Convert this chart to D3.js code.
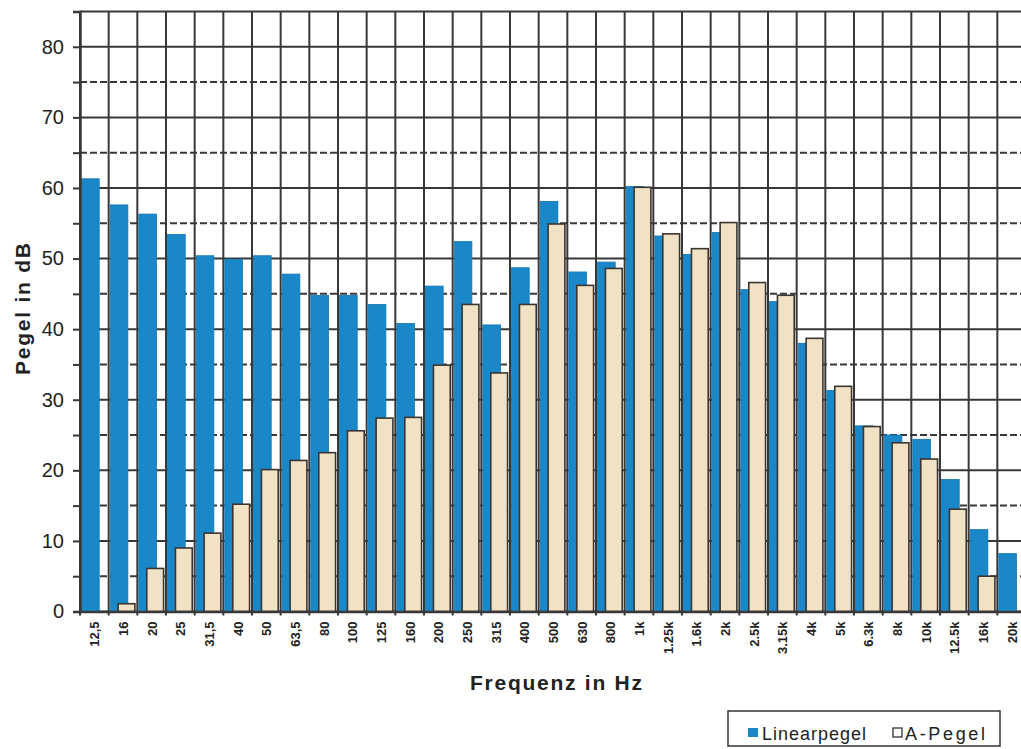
<!DOCTYPE html>
<html>
<head>
<meta charset="utf-8">
<script src="https://cdn.jsdelivr.net/npm/d3@7"></script>
<style>
  html, body { margin: 0; padding: 0; background: #fff; }
  svg { display: block; font-family: "Liberation Sans", Arial, sans-serif; }
</style>
</head>
<body>
<svg id="chart" width="1021" height="749"></svg>
<script>
const categories = ["12,5","16","20","25","31,5","40","50","63,5","80","100","125","160","200","250","315","400","500","630","800","1k","1.25k","1.6k","2k","2.5k","3.15k","4k","5k","6.3k","8k","10k","12.5k","16k","20k"];
const linearpegel = [61.3,57.6,56.3,53.4,50.4,49.9,50.4,47.8,44.8,44.8,43.5,40.8,46.1,52.4,40.6,48.7,58.1,48.1,49.5,60.2,53.2,50.6,53.7,45.6,43.9,38.0,31.3,26.3,25.0,24.4,18.7,11.6,8.2];
const apegel = [0,1.1,6.1,9.0,11.1,15.2,20.1,21.4,22.5,25.6,27.4,27.5,34.9,43.5,33.8,43.5,54.9,46.2,48.6,60.1,53.5,51.4,55.1,46.6,44.8,38.7,31.9,26.2,23.9,21.6,14.5,5.0,0];
const yTicks = [0,10,20,30,40,50,60,70,80];
const yMinor = [5,15,25,35,45,55,65,75];
const seriesNames = ["Linearpegel","A-Pegel"];

(function () {
const svg = d3.select("#chart");
const pLeft = 80, pTop = 11.5, pBottom = 611.5;
const pRight = 1026;

const x = d3.scaleBand().domain(categories).range([pLeft, pRight]).padding(0);
const y = d3.scaleLinear().domain([0, 85]).range([pBottom, pTop]);

const gridColor = "#383838";
const blue = "#1a88c8";
const beige = "#f1e2c5";

const grid = svg.append("g");
grid.selectAll("line.v").data(categories).enter().append("line")
  .attr("x1", d => x(d)).attr("x2", d => x(d))
  .attr("y1", pTop).attr("y2", pBottom)
  .attr("stroke", gridColor).attr("stroke-width", 2);
grid.selectAll("line.h").data(yTicks.concat([85])).enter().append("line")
  .attr("x1", pLeft).attr("x2", pRight)
  .attr("y1", d => y(d)).attr("y2", d => y(d))
  .attr("stroke", gridColor).attr("stroke-width", 2);
grid.selectAll("line.hd").data(yMinor).enter().append("line")
  .attr("x1", pLeft).attr("x2", pRight)
  .attr("y1", d => y(d)).attr("y2", d => y(d))
  .attr("stroke", gridColor).attr("stroke-width", 2)
  .attr("stroke-dasharray", "7,3");

const w = x.bandwidth();
svg.append("g").selectAll("rect").data(categories).enter().append("rect")
  .attr("x", d => x(d) + 1.5)
  .attr("width", w * 0.67 - 1.5)
  .attr("y", (d, i) => y(linearpegel[i]))
  .attr("height", (d, i) => y(0) - y(linearpegel[i]))
  .attr("fill", blue)
  .attr("stroke", "#1477b0").attr("stroke-width", 0.8);

svg.append("g").selectAll("rect").data(categories.filter((d, i) => apegel[i] > 0)).enter().append("rect")
  .attr("x", d => x(d) + w * 0.33)
  .attr("width", w * 0.62 - 1)
  .attr("y", d => y(apegel[categories.indexOf(d)]))
  .attr("height", d => y(0) - y(apegel[categories.indexOf(d)]))
  .attr("fill", beige)
  .attr("stroke", "#3a3530").attr("stroke-width", 1.6);

const yAxis = d3.axisLeft(y).tickValues(yTicks.concat(yMinor)).tickSize(7).tickPadding(6)
  .tickFormat(d => yTicks.includes(d) ? d : "");
const ya = svg.append("g").attr("transform", `translate(${pLeft},0)`).call(yAxis);
ya.select(".domain").attr("stroke", gridColor).attr("stroke-width", 2.5);
ya.selectAll(".tick line").attr("stroke", gridColor).attr("stroke-width", 2);
ya.selectAll(".tick text").attr("font-size", 20).attr("fill", "#222")
  .attr("font-family", "Liberation Sans, Arial, sans-serif").attr("dx", -3);

const xAxis = d3.axisBottom(x).tickSize(0).tickPadding(0);
const xa = svg.append("g").attr("transform", `translate(0,${pBottom})`).call(xAxis);
xa.select(".domain").attr("stroke", gridColor).attr("stroke-width", 2.5);
xa.selectAll(".tick text")
  .attr("font-size", 13).attr("font-weight", "bold").attr("fill", "#222")
  .attr("font-family", "Liberation Sans, Arial, sans-serif")
  .attr("text-anchor", "end")
  .attr("dy", null).attr("y", 0)
  .attr("transform", "translate(5,10) rotate(-90)");
svg.append("g").selectAll("line").data(categories).enter().append("line")
  .attr("x1", d => x(d)).attr("x2", d => x(d))
  .attr("y1", pBottom).attr("y2", pBottom + 4)
  .attr("stroke", gridColor).attr("stroke-width", 2);

svg.append("text").attr("x", 556).attr("y", 690)
  .attr("text-anchor", "middle").attr("font-size", 21).attr("font-weight", "bold").attr("fill", "#222")
  .attr("textLength", 172).attr("lengthAdjust", "spacing")
  .text("Frequenz in Hz");
svg.append("text").attr("transform", "translate(30,309) rotate(-90)")
  .attr("text-anchor", "middle").attr("font-size", 21).attr("font-weight", "bold").attr("fill", "#222")
  .attr("textLength", 132).attr("lengthAdjust", "spacing")
  .text("Pegel in dB");

const lg = svg.append("g");
lg.append("rect").attr("x", 728).attr("y", 711).attr("width", 272).attr("height", 35)
  .attr("fill", "#fff").attr("stroke", "#333").attr("stroke-width", 1.5);
lg.append("rect").attr("x", 748).attr("y", 728).attr("width", 10).attr("height", 9).attr("fill", blue);
lg.append("text").attr("x", 762).attr("y", 740).attr("font-size", 18).attr("fill", "#222")
  .attr("textLength", 104).attr("lengthAdjust", "spacing").text(seriesNames[0]);
lg.append("rect").attr("x", 893).attr("y", 728).attr("width", 9).attr("height", 9)
  .attr("fill", "#fff").attr("stroke", "#333").attr("stroke-width", 1.3);
lg.append("text").attr("x", 905).attr("y", 740).attr("font-size", 18).attr("fill", "#222")
  .attr("textLength", 80).attr("lengthAdjust", "spacing").text(seriesNames[1]);
})();
</script>
</body>
</html>
